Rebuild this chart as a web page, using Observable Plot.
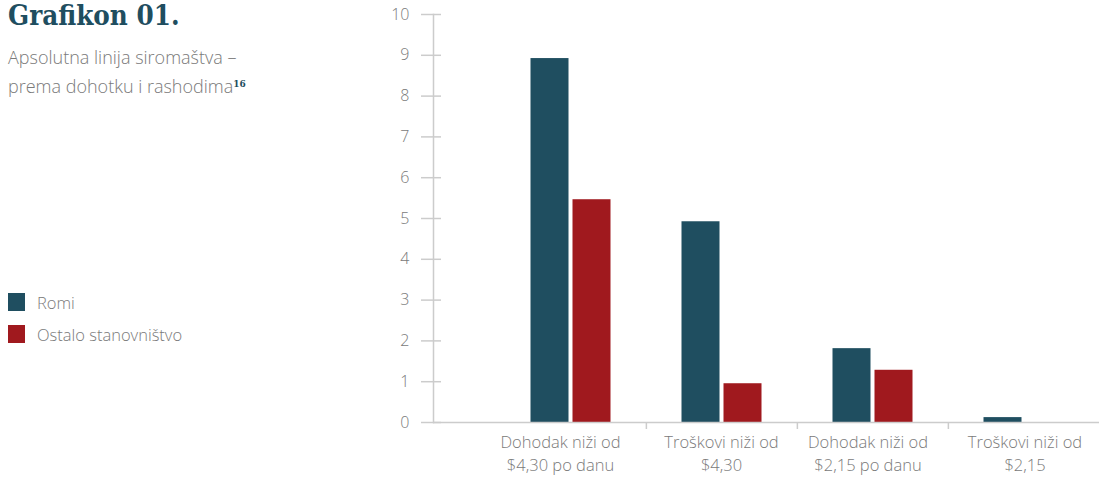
<!DOCTYPE html>
<html>
<head>
<meta charset="utf-8">
<script src="https://cdn.jsdelivr.net/npm/d3@7"></script>
<script src="https://cdn.jsdelivr.net/npm/@observablehq/plot@0.6"></script>
<style>
  html, body { margin: 0; padding: 0; background: #fff; }
  #wrap { position: relative; width: 1099px; height: 477px; overflow: hidden; }
  #chart { position: absolute; left: 0; top: 0; }
  .title { position: absolute; left: 8px; top: -1px; font-family: "DejaVu Serif Condensed", "DejaVu Serif", serif; font-stretch: condensed; font-weight: bold; font-size: 27.5px; color: #1f4e60; letter-spacing: 0px; }
  .subtitle { position: absolute; left: 8px; top: 43px; font-family: "Open Sans", sans-serif; font-weight: 300; font-size: 18px; line-height: 29px; color: #7a7a7a; }
  .subtitle sup { font-family: "DejaVu Serif Condensed", "DejaVu Serif", serif; font-weight: bold; font-size: 10px; color: #1f4e60; vertical-align: 6px; line-height: 0; }
  .legend { position: absolute; left: 8px; top: 293px; font-family: "Open Sans", sans-serif; font-weight: 300; font-size: 16.5px; color: #7a7a7a; }
  .legend .item { display: flex; align-items: center; height: 18px; margin-bottom: 14px; }
  .legend .sw { width: 17px; height: 18px; margin-right: 12px; }
</style>
</head>
<body>
<div id="wrap">
  <div id="chart"></div>
  <div class="title">Grafikon 01.</div>
  <div class="subtitle">Apsolutna linija siromaštva –<br>prema dohotku i rashodima<sup>16</sup></div>
  <div class="legend" id="legend"></div>
</div>
<script>
// ---- data ----
const categories = [
  "Dohodak niži od\n$4,30 po danu",
  "Troškovi niži od\n$4,30",
  "Dohodak niži od\n$2,15 po danu",
  "Troškovi niži od\n$2,15"
];
const seriesNames = ["Romi", "Ostalo stanovništvo"];
const romiValues = [8.92, 4.92, 1.81, 0.12];
const ostaloValues = [5.46, 0.95, 1.28, 0];
const yTicks = [0, 1, 2, 3, 4, 5, 6, 7, 8, 9, 10];
const colors = ["#1f4e60", "#a0191e"];

const romi = categories.map((c, i) => ({category: c, series: seriesNames[0], value: romiValues[i]}));
const ostalo = categories.map((c, i) => ({category: c, series: seriesNames[1], value: ostaloValues[i]}));

const W = 1099, H = 477;
const marginLeft = 433, marginRight = 0, marginTop = 14, marginBottom = 55;
const paddingOuter = 0.2016;
const step = (W - marginLeft - marginRight) / (categories.length + 2 * paddingOuter);

const labelStyle = {tickSize: 0, tickPadding: 8, lineHeight: 1.45, fontSize: 16.5, fill: "#7a7a7a", label: null};

const chart = Plot.plot({
  width: W,
  height: H,
  marginLeft, marginRight, marginTop, marginBottom,
  style: {fontFamily: "'Open Sans', sans-serif", fontSize: "16px", fontWeight: 300, color: "#7a7a7a", background: "transparent"},
  x: {domain: categories, paddingInner: 0, paddingOuter, align: 1, label: null},
  y: {domain: [0, 10], label: null},
  color: {domain: seriesNames, range: colors},
  marks: [
    Plot.barY(romi, {x: "category", y: "value", fill: "series", insetLeft: 35.5, insetRight: 77.5}),
    Plot.barY(ostalo, {x: "category", y: "value", fill: "series", insetLeft: 77.5, insetRight: 35.5}),
    Plot.ruleY([0], {stroke: "#cccccc", strokeWidth: 1.5}),
    Plot.frame({anchor: "left", stroke: "#cccccc", strokeWidth: 1.5}),
    Plot.axisY({ticks: yTicks, tickSize: 20, dx: 8, tickPadding: 12, stroke: "#cccccc", strokeWidth: 1.5, fill: "#7a7a7a", label: null}),
    Plot.axisX({...labelStyle, ticks: [categories[0]], dx: -10.5}),
    Plot.axisX({...labelStyle, ticks: [categories[1]], dx: -0.5}),
    Plot.axisX({...labelStyle, ticks: [categories[2]], dx: -5}),
    Plot.axisX({...labelStyle, ticks: [categories[3]], dx: 1}),
    Plot.axisX({ticks: categories.slice(1), tickSize: 7, dx: -step / 2, stroke: "#cccccc", strokeWidth: 1.5, fill: "none", label: null})
  ]
});
document.getElementById("chart").appendChild(chart);

const legend = document.getElementById("legend");
seriesNames.forEach((name, i) => {
  const item = document.createElement("div");
  item.className = "item";
  const sw = document.createElement("div");
  sw.className = "sw";
  sw.style.background = colors[i];
  const t = document.createElement("span");
  t.textContent = name;
  item.appendChild(sw);
  item.appendChild(t);
  legend.appendChild(item);
});
</script>
</body>
</html>
